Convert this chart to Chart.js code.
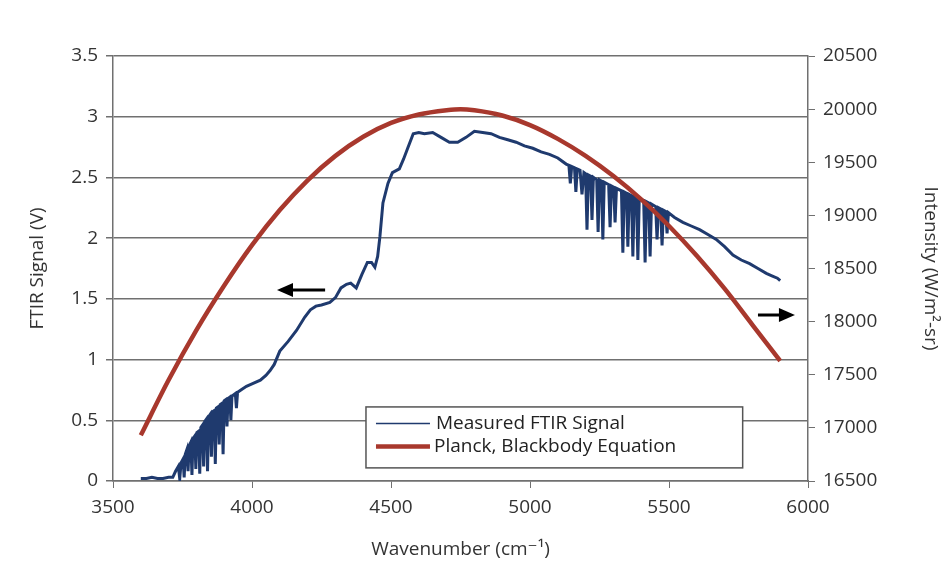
<!DOCTYPE html>
<html>
<head>
<meta charset="utf-8">
<script src="https://cdn.jsdelivr.net/npm/chart.js@4.4.1/dist/chart.umd.min.js"></script>
<style>
  html, body { margin: 0; padding: 0; background: #fff; }
  #wrap { width: 946px; height: 577px; position: relative; }
</style>
</head>
<body>
<div id="wrap"><canvas id="ftirChart"></canvas></div>
<script>
// Measured FTIR signal (V) vs wavenumber (cm^-1)
const measuredWavenumber = [
  3600, 3620, 3640, 3660, 3680, 3700, 3715, 3725,
  3735, 3740, 3745, 3752, 3756, 3760, 3766, 3770, 3774, 3780, 3784, 3788,
  3794, 3798, 3802, 3808, 3812, 3816, 3822, 3826, 3830, 3836, 3840, 3844,
  3850, 3854, 3858, 3864, 3868, 3872, 3878, 3882, 3886, 3892, 3896, 3900,
  3906, 3910, 3914, 3920, 3924, 3928, 3940, 3944, 3948, 3960, 3980, 4000,
  4030, 4050, 4065, 4080, 4100, 4130, 4160, 4190, 4210, 4230, 4250, 4280,
  4300, 4320, 4340, 4355, 4375, 4395, 4415, 4430, 4442, 4452, 4460, 4471,
  4489, 4505, 4530, 4545, 4560, 4580, 4600, 4620, 4650, 4680, 4710, 4740,
  4770, 4800, 4830, 4860, 4890, 4920, 4950, 4980, 5010, 5040, 5070, 5100,
  5130, 5140, 5145, 5150, 5160, 5165, 5170, 5180, 5187, 5194, 5200, 5205,
  5210, 5218, 5223, 5228, 5240, 5245, 5250, 5257, 5262, 5267, 5283, 5288,
  5293, 5301, 5306, 5311, 5329, 5334, 5339, 5347, 5352, 5357, 5365, 5370,
  5375, 5383, 5388, 5393, 5409, 5414, 5419, 5427, 5432, 5437, 5452, 5457,
  5462, 5470, 5475, 5480, 5488, 5493, 5498, 5520, 5550, 5580, 5610, 5640,
  5670, 5700, 5730, 5760, 5790, 5820, 5850, 5870, 5890, 5900
];
const measuredSignal = [
  0.02, 0.02, 0.03, 0.02, 0.02, 0.03, 0.03, 0.08,
  0.12, 0.02, 0.15, 0.18, 0.03, 0.22, 0.26, 0.08, 0.29, 0.32, 0.05, 0.35,
  0.37, 0.10, 0.40, 0.41, 0.06, 0.44, 0.46, 0.12, 0.49, 0.51, 0.08, 0.53,
  0.55, 0.20, 0.57, 0.58, 0.14, 0.60, 0.61, 0.30, 0.63, 0.64, 0.22, 0.66,
  0.67, 0.45, 0.68, 0.69, 0.50, 0.70, 0.72, 0.60, 0.73, 0.75, 0.78, 0.80,
  0.83, 0.87, 0.91, 0.96, 1.07, 1.15, 1.24, 1.35, 1.41, 1.44, 1.45, 1.47,
  1.51, 1.59, 1.62, 1.63, 1.59, 1.70, 1.80, 1.80, 1.76, 1.85, 2.01, 2.29,
  2.45, 2.54, 2.57, 2.65, 2.74, 2.86, 2.87, 2.86, 2.87, 2.83, 2.79, 2.79,
  2.83, 2.88, 2.87, 2.86, 2.83, 2.81, 2.79, 2.76, 2.74, 2.71, 2.69, 2.66,
  2.61, 2.60, 2.45, 2.59, 2.58, 2.38, 2.57, 2.56, 2.36, 2.54, 2.53, 2.07,
  2.52, 2.51, 2.15, 2.50, 2.48, 2.05, 2.48, 2.47, 1.99, 2.46, 2.44, 2.09,
  2.43, 2.42, 2.13, 2.41, 2.39, 1.88, 2.38, 2.37, 1.93, 2.36, 2.35, 1.85,
  2.34, 2.33, 1.82, 2.32, 2.31, 1.80, 2.30, 2.29, 1.85, 2.28, 2.26, 1.99,
  2.25, 2.24, 1.94, 2.23, 2.22, 2.04, 2.21, 2.17, 2.13, 2.10, 2.07, 2.03,
  1.99, 1.93, 1.86, 1.82, 1.79, 1.75, 1.71, 1.69, 1.67, 1.65
];

// Planck blackbody curve (W/m^2-sr), right axis
const planckWavenumber = [
  3600, 3700, 3800, 3900, 4000, 4100, 4200, 4300, 4400, 4500, 4600, 4700,
  4750, 4800, 4900, 5000, 5100, 5200, 5300, 5400, 5500, 5600, 5700, 5800, 5900
];
const planckIntensity = [
  16930, 17450, 17920, 18340, 18720, 19050, 19330, 19560, 19740, 19870, 19950, 19990,
  20000, 19990, 19940, 19850, 19720, 19560, 19370, 19150, 18900, 18620, 18310, 17970, 17630
];

const seriesNames = ['Measured FTIR Signal', 'Planck, Blackbody Equation'];
const FONT = "'Open Sans', 'DejaVu Sans', sans-serif";
const TEXT = '#333333';
const GRID = '#707070';
const BLUE = '#1f3a6e';
const RED = '#a8382d';

const toPoints = (xs, ys) => xs.map((x, i) => ({ x: x, y: ys[i] }));

// legend box + the two direction arrows
const extras = {
  id: 'extras',
  afterDatasetsDraw(chart) {
    const { ctx, scales } = chart;
    const x = scales.x, y = scales.y;

    const arrow = (x0, x1, v) => {
      const px0 = x.getPixelForValue(x0), px1 = x.getPixelForValue(x1);
      const py = y.getPixelForValue(v);
      const dir = Math.sign(px1 - px0);
      ctx.save();
      ctx.strokeStyle = '#000'; ctx.fillStyle = '#000'; ctx.lineWidth = 3;
      ctx.beginPath(); ctx.moveTo(px0, py); ctx.lineTo(px1 - dir * 12, py); ctx.stroke();
      ctx.beginPath();
      ctx.moveTo(px1, py);
      ctx.lineTo(px1 - dir * 16, py - 7);
      ctx.lineTo(px1 - dir * 16, py + 7);
      ctx.closePath(); ctx.fill();
      ctx.restore();
    };
    arrow(4263, 4090, 1.573);
    arrow(5820, 5953, 1.367);

    // legend
    const left = x.getPixelForValue(4410), right = x.getPixelForValue(5765);
    const top = y.getPixelForValue(0.61), bottom = y.getPixelForValue(0.108);
    ctx.save();
    ctx.fillStyle = '#fff';
    ctx.fillRect(left, top, right - left, bottom - top);
    ctx.strokeStyle = '#555'; ctx.lineWidth = 1.5;
    ctx.strokeRect(left, top, right - left, bottom - top);
    ctx.font = '19px ' + FONT;
    ctx.fillStyle = '#222';
    ctx.textBaseline = 'middle';
    const rows = [top + (bottom - top) * 0.27, top + (bottom - top) * 0.65];
    ctx.strokeStyle = BLUE; ctx.lineWidth = 1.5;
    ctx.beginPath(); ctx.moveTo(left + 10, rows[0]); ctx.lineTo(left + 64, rows[0]); ctx.stroke();
    ctx.strokeStyle = RED; ctx.lineWidth = 4.5;
    ctx.beginPath(); ctx.moveTo(left + 10, rows[1]); ctx.lineTo(left + 64, rows[1]); ctx.stroke();
    ctx.fillText(seriesNames[0], left + 70, rows[0]);
    ctx.fillText(seriesNames[1], left + 68, rows[1]);
    ctx.restore();
  }
};

new Chart(document.getElementById('ftirChart'), {
  type: 'line',
  data: {
    datasets: [
      {
        label: seriesNames[1],
        data: toPoints(planckWavenumber, planckIntensity),
        yAxisID: 'y1',
        borderColor: RED,
        borderWidth: 4.5,
        pointRadius: 0,
        tension: 0.4,
        cubicInterpolationMode: 'monotone',
        order: 0
      },
      {
        label: seriesNames[0],
        data: toPoints(measuredWavenumber, measuredSignal),
        yAxisID: 'y',
        borderColor: BLUE,
        borderWidth: 3,
        pointRadius: 0,
        tension: 0,
        order: 1
      }
    ]
  },
  options: {
    responsive: true,
    maintainAspectRatio: false,
    animation: false,
    layout: { padding: { top: 56, right: 0, left: 22, bottom: 12 } },
    plugins: { legend: { display: false }, tooltip: { enabled: false } },
    scales: {
      x: {
        type: 'linear', min: 3500, max: 6000,
        ticks: { stepSize: 500, color: TEXT, font: { family: FONT, size: 19 }, padding: 8,
                 callback: v => String(v), maxRotation: 0 },
        grid: { drawOnChartArea: false, color: GRID, tickLength: 7 },
        border: { color: GRID, width: 1.5 },
        title: { display: true, text: 'Wavenumber (cm⁻¹)', color: TEXT,
                 font: { family: FONT, size: 19 }, padding: { top: 4 } },
        afterFit: s => { s.height = 84; }
      },
      y: {
        position: 'left', min: 0, max: 3.5,
        ticks: { stepSize: 0.5, color: TEXT, font: { family: FONT, size: 19 }, padding: 8,
                 callback: v => String(v) },
        grid: { color: GRID, lineWidth: 1.5, tickLength: 7 },
        border: { color: GRID, width: 1.5 },
        title: { display: true, text: 'FTIR Signal (V)', color: TEXT,
                 font: { family: FONT, size: 19 } },
        afterFit: s => { s.width = 91; }
      },
      y1: {
        position: 'right', min: 16500, max: 20500,
        ticks: { stepSize: 500, color: TEXT, font: { family: FONT, size: 19 }, padding: 8,
                 callback: v => String(v) },
        grid: { drawOnChartArea: false, color: GRID, tickLength: 7 },
        border: { color: GRID, width: 1.5 },
        title: { display: true, text: 'Intensity (W/m²-sr)', color: TEXT,
                 font: { family: FONT, size: 19 } },
        afterFit: s => { s.width = 138; }
      }
    }
  },
  plugins: [extras]
});
</script>
</body>
</html>
